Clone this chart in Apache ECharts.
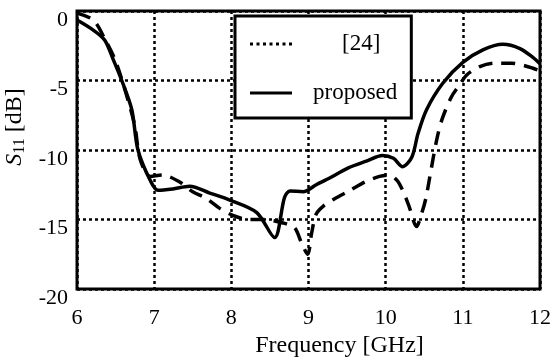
<!DOCTYPE html>
<html>
<head>
<meta charset="utf-8">
<script src="https://cdn.jsdelivr.net/npm/echarts@6/dist/echarts.min.js"></script>
<style>
  html, body { margin: 0; padding: 0; background: #fff; }
  #chart { width: 560px; height: 360px; }
</style>
</head>
<body>
<div id="chart"></div>
<script>
// frequency [GHz], S11 [dB]
const refFreq = [6.0, 6.21, 6.36, 6.5, 6.65, 6.75, 6.82, 6.95, 7.11, 7.33, 7.5, 7.68, 7.85, 8.02, 8.22, 8.41, 8.67, 8.82, 8.91, 8.99, 9.04, 9.1, 9.2, 9.34, 9.54, 9.73, 9.92, 10.05, 10.15, 10.22, 10.3, 10.4, 10.47, 10.52, 10.57, 10.66, 10.73, 10.85, 10.96, 11.05, 11.22, 11.41, 11.63, 11.78, 11.9, 12.0];
const refS11 = [-0.15, -0.65, -2.0, -3.6, -6.2, -8.3, -10.7, -11.9, -11.8, -12.3, -13.0, -13.5, -14.2, -14.7, -15.0, -15.0, -15.25, -15.6, -16.7, -17.5, -16.0, -14.6, -14.0, -13.5, -12.9, -12.3, -11.9, -11.8, -12.2, -12.9, -14.0, -15.5, -14.5, -13.5, -12.0, -9.3, -7.8, -6.2, -5.3, -4.6, -4.0, -3.75, -3.75, -3.9, -4.1, -4.3];

const propFreq = [6.0, 6.21, 6.36, 6.47, 6.58, 6.71, 6.79, 6.95, 7.05, 7.24, 7.46, 7.72, 7.98, 8.33, 8.56, 8.69, 8.76, 8.93, 9.1, 9.28, 9.51, 9.75, 9.96, 10.1, 10.22, 10.34, 10.42, 10.53, 10.74, 11.0, 11.26, 11.52, 11.74, 11.9, 12.0];
const propS11 = [-0.65, -1.37, -2.1, -3.5, -5.0, -7.1, -10.0, -12.2, -12.9, -12.8, -12.6, -13.1, -13.6, -14.5, -16.3, -13.4, -12.95, -13.0, -12.5, -12.0, -11.3, -10.8, -10.4, -10.6, -11.2, -10.5, -8.8, -7.1, -5.2, -3.7, -2.8, -2.4, -2.7, -3.3, -3.8];

const seriesNames = ['[24]', 'proposed'];
const font = "'Liberation Serif', 'Times New Roman', serif";

function pairs(xs, ys) { return xs.map((x, i) => [x, ys[i]]); }

// legend glyphs: a row of dots and a plain bar
const dotIcon = 'path://M0,0h3v3h-3z M6.5,0h3v3h-3z M13,0h3v3h-3z M19.5,0h3v3h-3z M26,0h3v3h-3z M32.5,0h3v3h-3z M39,0h3v3h-3z';
const barIcon = 'path://M0,0h42v3h-42z';

const chart = echarts.init(document.getElementById('chart'), null, { renderer: 'canvas' });

const gridLine = { show: true, lineStyle: { color: '#000', width: 2.5, type: [3, 3] } };
const legendText = { fontFamily: font, fontSize: 23, color: '#000', lineHeight: 24 };

chart.setOption({
  animation: false,
  backgroundColor: '#fff',
  textStyle: { fontFamily: font, color: '#000' },
  grid: {
    left: 77, right: 20, top: 11, bottom: 71,
    outerBoundsMode: 'none',
    show: true, borderColor: '#000', borderWidth: 3, backgroundColor: 'transparent'
  },
  legend: {
    orient: 'vertical',
    left: 235, top: 16,
    padding: [16, 14, 13, 15],
    itemGap: 25,
    itemWidth: 42, itemHeight: 3,
    backgroundColor: '#fff',
    borderColor: '#000', borderWidth: 3, borderRadius: 0,
    textStyle: legendText,
    data: [
      { name: seriesNames[0], icon: dotIcon, itemStyle: { color: '#000' },
        textStyle: Object.assign({}, legendText, { padding: [0, 0, 0, 45] }) },
      { name: seriesNames[1], icon: barIcon, itemStyle: { color: '#000' },
        textStyle: Object.assign({}, legendText, { padding: [0, 0, 0, 16] }) }
    ]
  },
  xAxis: {
    type: 'value', min: 6, max: 12, interval: 1,
    name: 'Frequency [GHz]', nameLocation: 'middle', nameGap: 44,
    nameTextStyle: { fontFamily: font, fontSize: 24, color: '#000', padding: [0, 0, 0, 62] },
    axisLine: { show: false },
    axisTick: { show: false },
    axisLabel: { fontFamily: font, fontSize: 22, color: '#000', margin: 18 },
    splitLine: gridLine
  },
  yAxis: {
    type: 'value', min: -20, max: 0, interval: 5,
    name: '{i|S}{sub|11} [dB]', nameLocation: 'middle', nameGap: 48,
    nameTextStyle: {
      fontFamily: font, fontSize: 24, color: '#000', padding: [0, 0, 0, 46],
      rich: {
        i: { fontFamily: font, fontSize: 24, fontStyle: 'italic', color: '#000' },
        sub: { fontFamily: font, fontSize: 16, color: '#000', padding: [10, 0, 0, 0] }
      }
    },
    axisLine: { show: false },
    axisTick: { show: false },
    axisLabel: { fontFamily: font, fontSize: 22, color: '#000', margin: 9, verticalAlign: 'top', lineHeight: 18 },
    splitLine: gridLine
  },
  series: [
    {
      name: seriesNames[0], type: 'line', smooth: 0.3, symbol: 'none',
      lineStyle: { color: '#000', width: 3.5, type: [14, 9] },
      itemStyle: { color: '#000' },
      data: pairs(refFreq, refS11)
    },
    {
      name: seriesNames[1], type: 'line', smooth: 0.3, symbol: 'none',
      lineStyle: { color: '#000', width: 3.5, type: 'solid' },
      itemStyle: { color: '#000' },
      data: pairs(propFreq, propS11)
    }
  ]
});
</script>
</body>
</html>
